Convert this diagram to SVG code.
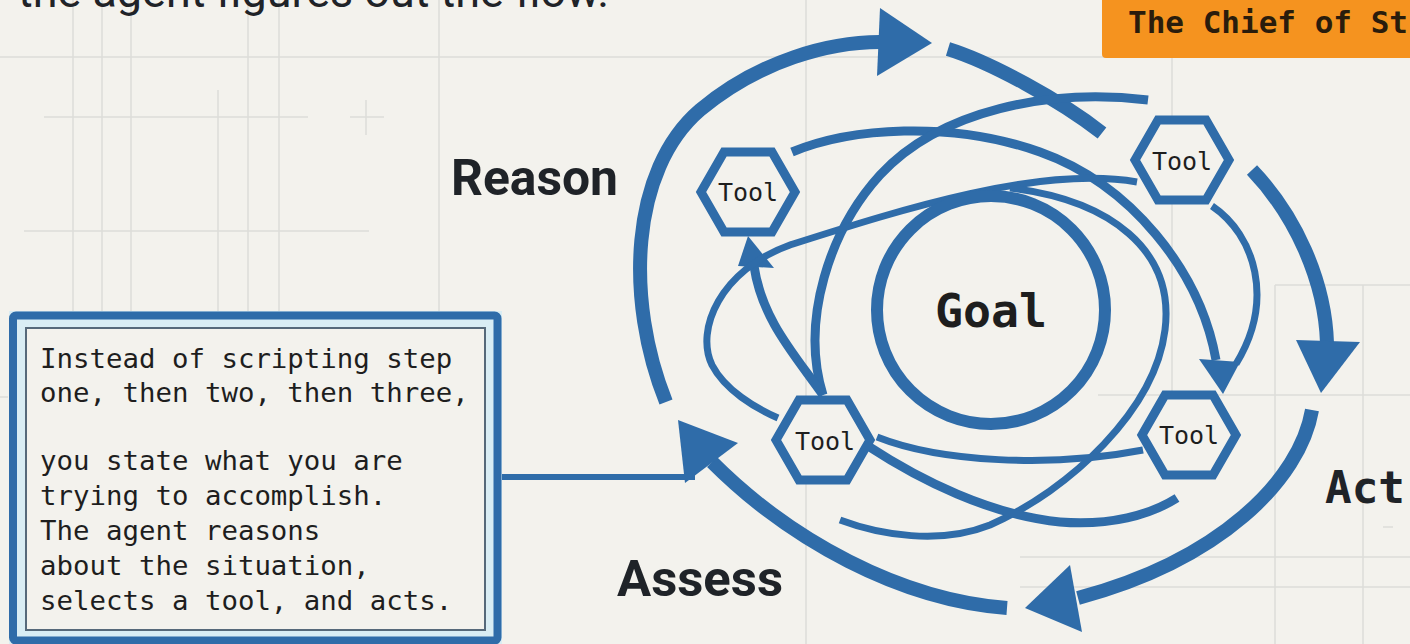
<svg xmlns="http://www.w3.org/2000/svg" width="1410" height="644" viewBox="0 0 1410 644">
<style>
.grid{stroke:#dcdcd8;stroke-width:1.5;fill:none}
.thick{fill:none;stroke:#2f6ca9;stroke-width:14;stroke-linecap:butt}
.thin{fill:none;stroke:#2f6ca9;stroke-width:7;stroke-linecap:butt}
.mid{fill:none;stroke:#2f6ca9;stroke-width:9;stroke-linecap:butt}
.head{fill:#2f6ca9}
.hex{fill:#f3f2ed;stroke:#2f6ca9;stroke-width:9;stroke-linejoin:miter}
.tool{font-family:"DejaVu Sans Mono","Liberation Mono",monospace;font-size:25px;fill:#1e1e1e;text-anchor:middle}
.label{font-family:Roboto,"Liberation Sans",sans-serif;font-weight:700;font-size:50px;fill:#1f2328}
.mono{font-family:"DejaVu Sans Mono","Liberation Mono",monospace;fill:#1e1e1e}
</style>
<defs>
<polygon id="hexshape" points="-47,0 -24,-40 24,-40 47,0 24,40 -24,40"/>
</defs>
<rect width="1410" height="644" fill="#f3f2ed"/>
<g id="grid">
<line class="grid" x1="0" y1="57" x2="1410" y2="57"/>
<line class="grid" x1="44" y1="117" x2="308" y2="117"/>
<line class="grid" x1="350" y1="117" x2="384" y2="117"/>
<line class="grid" x1="366" y1="100" x2="366" y2="135"/>
<line class="grid" x1="24" y1="231" x2="369" y2="231"/>
<line class="grid" x1="73" y1="0" x2="73" y2="311"/>
<line class="grid" x1="102" y1="0" x2="102" y2="311"/>
<line class="grid" x1="131" y1="0" x2="131" y2="311"/>
<line class="grid" x1="218" y1="90" x2="218" y2="311"/>
<line class="grid" x1="248" y1="0" x2="248" y2="311"/>
<line class="grid" x1="279" y1="0" x2="279" y2="311"/>
<line class="grid" x1="439" y1="0" x2="439" y2="311"/>
<line class="grid" x1="806" y1="0" x2="806" y2="644"/>
<line class="grid" x1="1172" y1="58" x2="1172" y2="395"/>
<line class="grid" x1="1275" y1="285" x2="1410" y2="285"/>
<line class="grid" x1="1098" y1="395" x2="1410" y2="395"/>
<line class="grid" x1="1275" y1="285" x2="1275" y2="644"/>
<line class="grid" x1="1363" y1="285" x2="1363" y2="644"/>
<line class="grid" x1="1020" y1="557" x2="1410" y2="557"/>
<line class="grid" x1="1020" y1="587" x2="1410" y2="587"/>
<line class="grid" x1="1383" y1="527" x2="1393" y2="527"/>
<line class="grid" x1="0" y1="397" x2="8" y2="397"/>
</g>
<text class="label" x="18" y="7" style="font-weight:400;font-size:45px" textLength="591" lengthAdjust="spacingAndGlyphs">the agent figures out the flow.</text>
<g id="chief">
<rect x="1102" y="-10" width="320" height="68" rx="4" fill="#f5931f"/>
<text class="mono" x="1128" y="33" style="font-size:31px;font-weight:700;fill:#2a1c0c">The Chief of St</text>
</g>
<g id="connectors">
<path class="thick" d="M666,402 C625,300 630,170 700,110 C760,60 830,42 880,42"/>
<polygon class="head" points="880,8 932,43 877,76"/>
<path class="thick" d="M948,49 C990,62 1060,100 1102,133"/>
<path class="thick" d="M1252,170 C1295,215 1325,280 1327,343"/>
<polygon class="head" points="1296,340 1360,342 1321,393"/>
<path class="thick" d="M1312,410 C1300,480 1220,560 1078,598"/>
<polygon class="head" points="1070,565 1025,608 1082,632"/>
<path class="thick" d="M1007,608 C900,600 790,540 712,462"/>
<polygon class="head" points="678,420 738,443 685,483"/>
<line x1="500" y1="477" x2="695" y2="477" stroke="#2f6ca9" stroke-width="6"/>
<path class="mid" d="M792,152 C850,128 950,120 1040,152 C1130,184 1200,270 1216,360"/>
<polygon class="head" points="1199,359 1240,362 1223,394"/>
<path class="mid" d="M1148,100 C1050,88 940,110 880,175 C830,230 800,320 823,395"/>
<path class="mid" d="M823,395 C795,355 762,320 754,266"/>
<polygon class="head" points="738,266 748,236 774,268"/>
<path class="thin" d="M1137,182 C1040,165 900,210 790,245 C720,270 695,330 712,365 C725,390 755,408 778,418"/>
<path class="thin" d="M1010,188 C1110,200 1175,250 1165,330 C1155,410 1070,490 990,525 C940,545 880,535 840,520"/>
<path class="thin" d="M877,437 C940,462 1050,468 1143,450"/>
<path class="mid" d="M868,446 C920,480 990,515 1060,522 C1110,526 1150,515 1177,498"/>
<path class="thin" d="M1212,206 C1255,235 1275,300 1236,364"/>
</g>
<g id="goal">
<circle cx="991" cy="310" r="114" fill="#f3f2ed" stroke="#2f6ca9" stroke-width="12"/>
<text class="mono" x="991" y="327" text-anchor="middle" style="font-size:47px;font-weight:700" textLength="112" lengthAdjust="spacingAndGlyphs">Goal</text>
</g>
<g id="tool-tl" transform="translate(748,192)"><use href="#hexshape" class="hex"/><text class="tool" x="0" y="9">Tool</text></g>
<g id="tool-tr" transform="translate(1182,160)"><use href="#hexshape" class="hex"/><text class="tool" x="0" y="10">Tool</text></g>
<g id="tool-bl" transform="translate(823,440)"><use href="#hexshape" class="hex"/><text class="tool" x="2" y="10">Tool</text></g>
<g id="tool-br" transform="translate(1189,435)"><use href="#hexshape" class="hex"/><text class="tool" x="0" y="9">Tool</text></g>
<g id="label-reason"><text class="label" x="451" y="195" textLength="167" lengthAdjust="spacingAndGlyphs">Reason</text></g>
<g id="label-assess"><text class="label" x="617" y="596" textLength="166" lengthAdjust="spacingAndGlyphs">Assess</text></g>
<g id="label-act"><text class="mono" x="1325" y="503" style="font-size:44px;font-weight:700;fill:#1f2328" textLength="80" lengthAdjust="spacingAndGlyphs">Act</text></g>
<g id="textbox">
<rect x="9" y="311" width="493" height="340" fill="#d9edf4"/>
<rect x="13" y="315.5" width="484.5" height="325" rx="3" fill="none" stroke="#2f6ca9" stroke-width="8"/>
<rect x="26" y="328" width="459" height="302" fill="#f3f2ed" stroke="#56697a" stroke-width="2"/>
<text class="mono" style="font-size:27.4px">
<tspan x="40" y="368">Instead of scripting step</tspan>
<tspan x="40" y="402">one, then two, then three,</tspan>
<tspan x="40" y="470">you state what you are</tspan>
<tspan x="40" y="505">trying to accomplish.</tspan>
<tspan x="40" y="540">The agent reasons</tspan>
<tspan x="40" y="575">about the situation,</tspan>
<tspan x="40" y="610">selects a tool, and acts.</tspan>
</text>
</g>
</svg>
